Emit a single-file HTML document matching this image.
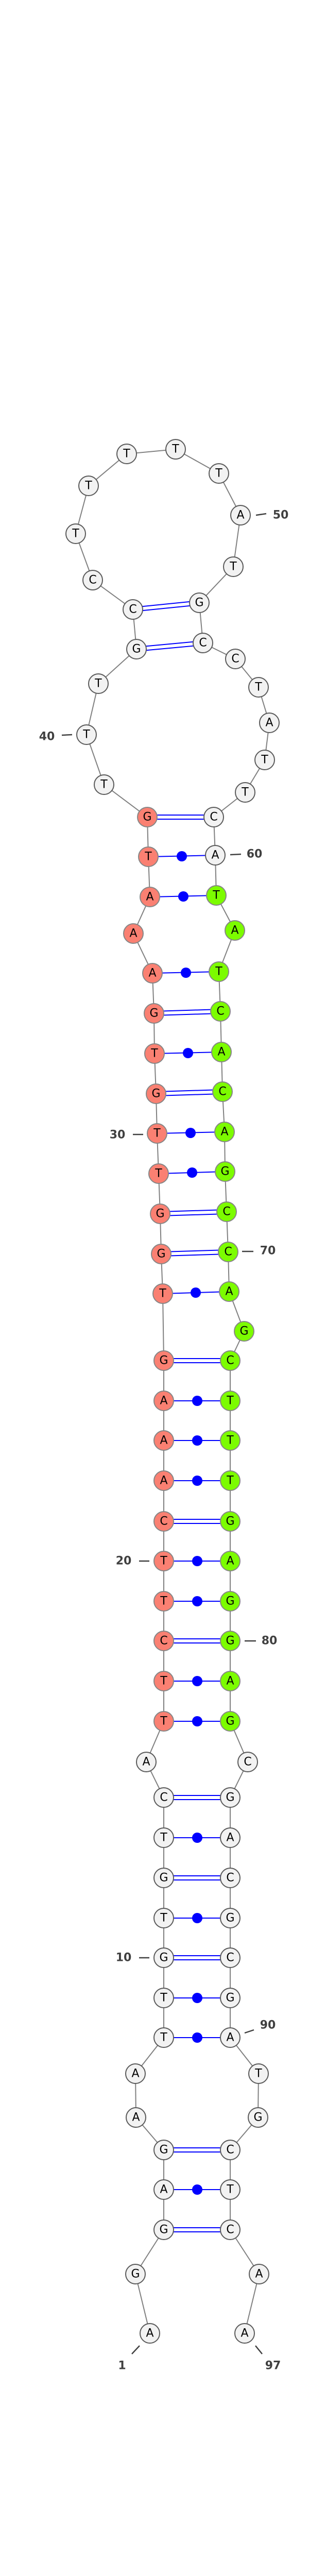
<!DOCTYPE html>
<html><head><meta charset="utf-8"><style>
html,body{margin:0;padding:0;background:#fff;width:600px;height:5330px;overflow:hidden;}
svg{display:block;}
.n text{font-family:"DejaVu Sans","Liberation Sans",sans-serif;font-size:22px;text-anchor:middle;dominant-baseline:central;fill:#000;}
.lab{font-family:"DejaVu Sans","Liberation Sans",sans-serif;font-weight:bold;font-size:22px;fill:#404040;text-anchor:middle;dominant-baseline:central;}
</style></head><body>
<svg width="600" height="5330" viewBox="0 0 600 5330" xmlns="http://www.w3.org/2000/svg">
<polyline fill="none" stroke="#808080" stroke-width="2" points="291,4529 263,4414 318,4328 318,4250 318,4173 264,4110 263,4025 318,3955 318,3878 318,3800 318,3723 318,3645 318,3567 318,3489 284,3420 318,3341 318,3263 318,3185 318,3108 318,3030 318,2953 318,2874 318,2796 318,2719 318,2641 316,2511 313,2434 311,2356 308,2278 305,2200 303,2123 300,2045 299,1967 296,1889 259,1812 291,1741 288,1663 286,1586 202,1523 168,1426 191,1327 265,1260 258,1183 180,1126 147,1036 172,943 246,881 341,872 425,919 467,1000 453,1100 387,1170 394,1248 457,1279 502,1334 523,1403 514,1475 476,1538 415,1586 418,1660 420,1738 456,1806 425,1886 428,1963 430,2042 432,2119 436,2197 437,2274 440,2352 443,2430 445,2507 474,2584 447,2641 447,2719 447,2796 447,2874 447,2953 447,3030 447,3108 447,3185 447,3263 447,3341 481,3420 447,3489 447,3567 447,3645 447,3723 447,3800 447,3878 447,3955 502,4025 501,4110 447,4173 447,4250 447,4328 503,4414 475,4529"/>
<g stroke="#0000ff" stroke-width="2">
<line x1="258" y1="1179" x2="387" y2="1166"/><line x1="258" y1="1187" x2="387" y2="1174"/>
<line x1="265" y1="1256" x2="394" y2="1244"/><line x1="265" y1="1264" x2="394" y2="1252"/>
<line x1="286" y1="1582" x2="415" y2="1582"/><line x1="286" y1="1590" x2="415" y2="1590"/>
<line x1="299" y1="1963" x2="428" y2="1959"/><line x1="299" y1="1971" x2="428" y2="1967"/>
<line x1="303" y1="2119" x2="432" y2="2115"/><line x1="303" y1="2127" x2="432" y2="2123"/>
<line x1="311" y1="2352" x2="440" y2="2348"/><line x1="311" y1="2360" x2="440" y2="2356"/>
<line x1="313" y1="2430" x2="443" y2="2426"/><line x1="313" y1="2438" x2="443" y2="2434"/>
<line x1="318" y1="2637" x2="447" y2="2637"/><line x1="318" y1="2645" x2="447" y2="2645"/>
<line x1="318" y1="2949" x2="447" y2="2949"/><line x1="318" y1="2957" x2="447" y2="2957"/>
<line x1="318" y1="3181" x2="447" y2="3181"/><line x1="318" y1="3189" x2="447" y2="3189"/>
<line x1="318" y1="3485" x2="447" y2="3485"/><line x1="318" y1="3493" x2="447" y2="3493"/>
<line x1="318" y1="3641" x2="447" y2="3641"/><line x1="318" y1="3649" x2="447" y2="3649"/>
<line x1="318" y1="3796" x2="447" y2="3796"/><line x1="318" y1="3804" x2="447" y2="3804"/>
<line x1="318" y1="4169" x2="447" y2="4169"/><line x1="318" y1="4177" x2="447" y2="4177"/>
<line x1="318" y1="4324" x2="447" y2="4324"/><line x1="318" y1="4332" x2="447" y2="4332"/>
<line x1="288" y1="1663" x2="418" y2="1660"/>
<line x1="291" y1="1741" x2="420" y2="1738"/>
<line x1="296" y1="1889" x2="425" y2="1886"/>
<line x1="300" y1="2045" x2="430" y2="2042"/>
<line x1="305" y1="2200" x2="436" y2="2197"/>
<line x1="308" y1="2278" x2="437" y2="2274"/>
<line x1="316" y1="2511" x2="445" y2="2507"/>
<line x1="318" y1="2719" x2="447" y2="2719"/>
<line x1="318" y1="2796" x2="447" y2="2796"/>
<line x1="318" y1="2874" x2="447" y2="2874"/>
<line x1="318" y1="3030" x2="447" y2="3030"/>
<line x1="318" y1="3108" x2="447" y2="3108"/>
<line x1="318" y1="3263" x2="447" y2="3263"/>
<line x1="318" y1="3341" x2="447" y2="3341"/>
<line x1="318" y1="3567" x2="447" y2="3567"/>
<line x1="318" y1="3723" x2="447" y2="3723"/>
<line x1="318" y1="3878" x2="447" y2="3878"/>
<line x1="318" y1="3955" x2="447" y2="3955"/>
<line x1="318" y1="4250" x2="447" y2="4250"/>
</g>
<g fill="#0000ff">
<circle cx="353" cy="1662" r="10"/><circle cx="356" cy="1740" r="10"/><circle cx="361" cy="1888" r="10"/><circle cx="365" cy="2044" r="10"/><circle cx="370" cy="2199" r="10"/><circle cx="373" cy="2276" r="10"/><circle cx="380" cy="2509" r="10"/>
<circle cx="383" cy="2719" r="10"/><circle cx="383" cy="2796" r="10"/><circle cx="383" cy="2874" r="10"/><circle cx="383" cy="3030" r="10"/><circle cx="383" cy="3108" r="10"/><circle cx="383" cy="3263" r="10"/><circle cx="383" cy="3341" r="10"/><circle cx="383" cy="3567" r="10"/><circle cx="383" cy="3723" r="10"/><circle cx="383" cy="3878" r="10"/><circle cx="383" cy="3955" r="10"/><circle cx="383" cy="4250" r="10"/>
</g>
<g stroke="#404040" stroke-width="2.5">
<line x1="497" y1="1000" x2="517" y2="997"/>
<line x1="120" y1="1427" x2="140" y2="1426"/>
<line x1="447" y1="1659" x2="468" y2="1658"/>
<line x1="258" y1="2202" x2="278" y2="2202"/>
<line x1="470" y1="2429" x2="492" y2="2429"/>
<line x1="270" y1="3030" x2="290" y2="3030"/>
<line x1="475" y1="3185" x2="497" y2="3185"/>
<line x1="270" y1="3800" x2="290" y2="3800"/>
<line x1="475" y1="3946" x2="493" y2="3940"/>
<line x1="256" y1="4569" x2="271" y2="4553"/>
<line x1="496" y1="4553" x2="509" y2="4569"/>
</g>
<g class="lab">
<text x="545" y="1000">50</text>
<text x="91" y="1430">40</text>
<text x="494" y="1658">60</text>
<text x="228" y="2203">30</text>
<text x="520" y="2428">70</text>
<text x="240" y="3030">20</text>
<text x="523" y="3185">80</text>
<text x="240" y="3800">10</text>
<text x="520" y="3931">90</text>
<text x="237" y="4592">1</text>
<text x="530" y="4592">97</text>
</g>
<g class="n" stroke-width="2">
<g fill="#f2f2f2" stroke="#5a5a5a">
<circle cx="291" cy="4529" r="19"/><circle cx="263" cy="4414" r="19"/><circle cx="318" cy="4328" r="19"/><circle cx="318" cy="4250" r="19"/><circle cx="318" cy="4173" r="19"/><circle cx="264" cy="4110" r="19"/><circle cx="263" cy="4025" r="19"/><circle cx="318" cy="3955" r="19"/><circle cx="318" cy="3878" r="19"/><circle cx="318" cy="3800" r="19"/><circle cx="318" cy="3723" r="19"/><circle cx="318" cy="3645" r="19"/><circle cx="318" cy="3567" r="19"/><circle cx="318" cy="3489" r="19"/><circle cx="284" cy="3420" r="19"/>
<circle cx="202" cy="1523" r="19"/><circle cx="168" cy="1426" r="19"/><circle cx="191" cy="1327" r="19"/><circle cx="265" cy="1260" r="19"/><circle cx="258" cy="1183" r="19"/><circle cx="180" cy="1126" r="19"/><circle cx="147" cy="1036" r="19"/><circle cx="172" cy="943" r="19"/><circle cx="246" cy="881" r="19"/><circle cx="341" cy="872" r="19"/><circle cx="425" cy="919" r="19"/><circle cx="467" cy="1000" r="19"/><circle cx="453" cy="1100" r="19"/><circle cx="387" cy="1170" r="19"/><circle cx="394" cy="1248" r="19"/><circle cx="457" cy="1279" r="19"/><circle cx="502" cy="1334" r="19"/><circle cx="523" cy="1403" r="19"/><circle cx="514" cy="1475" r="19"/><circle cx="476" cy="1538" r="19"/><circle cx="415" cy="1586" r="19"/><circle cx="418" cy="1660" r="19"/>
<circle cx="481" cy="3420" r="19"/><circle cx="447" cy="3489" r="19"/><circle cx="447" cy="3567" r="19"/><circle cx="447" cy="3645" r="19"/><circle cx="447" cy="3723" r="19"/><circle cx="447" cy="3800" r="19"/><circle cx="447" cy="3878" r="19"/><circle cx="447" cy="3955" r="19"/><circle cx="502" cy="4025" r="19"/><circle cx="501" cy="4110" r="19"/><circle cx="447" cy="4173" r="19"/><circle cx="447" cy="4250" r="19"/><circle cx="447" cy="4328" r="19"/><circle cx="503" cy="4414" r="19"/><circle cx="475" cy="4529" r="19"/>
</g>
<g fill="#fa8072" stroke="#868686">
<circle cx="318" cy="3341" r="19"/><circle cx="318" cy="3263" r="19"/><circle cx="318" cy="3185" r="19"/><circle cx="318" cy="3108" r="19"/><circle cx="318" cy="3030" r="19"/><circle cx="318" cy="2953" r="19"/><circle cx="318" cy="2874" r="19"/><circle cx="318" cy="2796" r="19"/><circle cx="318" cy="2719" r="19"/><circle cx="318" cy="2641" r="19"/><circle cx="316" cy="2511" r="19"/><circle cx="313" cy="2434" r="19"/><circle cx="311" cy="2356" r="19"/><circle cx="308" cy="2278" r="19"/><circle cx="305" cy="2200" r="19"/><circle cx="303" cy="2123" r="19"/><circle cx="300" cy="2045" r="19"/><circle cx="299" cy="1967" r="19"/><circle cx="296" cy="1889" r="19"/><circle cx="259" cy="1812" r="19"/><circle cx="291" cy="1741" r="19"/><circle cx="288" cy="1663" r="19"/><circle cx="286" cy="1586" r="19"/>
</g>
<g fill="#7cfc00" stroke="#868686">
<circle cx="420" cy="1738" r="19"/><circle cx="456" cy="1806" r="19"/><circle cx="425" cy="1886" r="19"/><circle cx="428" cy="1963" r="19"/><circle cx="430" cy="2042" r="19"/><circle cx="432" cy="2119" r="19"/><circle cx="436" cy="2197" r="19"/><circle cx="437" cy="2274" r="19"/><circle cx="440" cy="2352" r="19"/><circle cx="443" cy="2430" r="19"/><circle cx="445" cy="2507" r="19"/><circle cx="474" cy="2584" r="19"/><circle cx="447" cy="2641" r="19"/><circle cx="447" cy="2719" r="19"/><circle cx="447" cy="2796" r="19"/><circle cx="447" cy="2874" r="19"/><circle cx="447" cy="2953" r="19"/><circle cx="447" cy="3030" r="19"/><circle cx="447" cy="3108" r="19"/><circle cx="447" cy="3185" r="19"/><circle cx="447" cy="3263" r="19"/><circle cx="447" cy="3341" r="19"/>
</g>
<g stroke="none">
<text x="291" y="4529">A</text><text x="263" y="4414">G</text><text x="318" y="4328">G</text><text x="318" y="4250">A</text><text x="318" y="4173">G</text><text x="264" y="4110">A</text><text x="263" y="4025">A</text><text x="318" y="3955">T</text><text x="318" y="3878">T</text><text x="318" y="3800">G</text><text x="318" y="3723">T</text><text x="318" y="3645">G</text><text x="318" y="3567">T</text><text x="318" y="3489">C</text><text x="284" y="3420">A</text><text x="318" y="3341">T</text><text x="318" y="3263">T</text><text x="318" y="3185">C</text><text x="318" y="3108">T</text><text x="318" y="3030">T</text><text x="318" y="2953">C</text><text x="318" y="2874">A</text><text x="318" y="2796">A</text><text x="318" y="2719">A</text><text x="318" y="2641">G</text><text x="316" y="2511">T</text><text x="313" y="2434">G</text><text x="311" y="2356">G</text><text x="308" y="2278">T</text><text x="305" y="2200">T</text><text x="303" y="2123">G</text><text x="300" y="2045">T</text><text x="299" y="1967">G</text><text x="296" y="1889">A</text><text x="259" y="1812">A</text><text x="291" y="1741">A</text><text x="288" y="1663">T</text><text x="286" y="1586">G</text><text x="202" y="1523">T</text><text x="168" y="1426">T</text><text x="191" y="1327">T</text><text x="265" y="1260">G</text><text x="258" y="1183">C</text><text x="180" y="1126">C</text><text x="147" y="1036">T</text><text x="172" y="943">T</text><text x="246" y="881">T</text><text x="341" y="872">T</text><text x="425" y="919">T</text><text x="467" y="1000">A</text><text x="453" y="1100">T</text><text x="387" y="1170">G</text><text x="394" y="1248">C</text><text x="457" y="1279">C</text><text x="502" y="1334">T</text><text x="523" y="1403">A</text><text x="514" y="1475">T</text><text x="476" y="1538">T</text><text x="415" y="1586">C</text><text x="418" y="1660">A</text><text x="420" y="1738">T</text><text x="456" y="1806">A</text><text x="425" y="1886">T</text><text x="428" y="1963">C</text><text x="430" y="2042">A</text><text x="432" y="2119">C</text><text x="436" y="2197">A</text><text x="437" y="2274">G</text><text x="440" y="2352">C</text><text x="443" y="2430">C</text><text x="445" y="2507">A</text><text x="474" y="2584">G</text><text x="447" y="2641">C</text><text x="447" y="2719">T</text><text x="447" y="2796">T</text><text x="447" y="2874">T</text><text x="447" y="2953">G</text><text x="447" y="3030">A</text><text x="447" y="3108">G</text><text x="447" y="3185">G</text><text x="447" y="3263">A</text><text x="447" y="3341">G</text><text x="481" y="3420">C</text><text x="447" y="3489">G</text><text x="447" y="3567">A</text><text x="447" y="3645">C</text><text x="447" y="3723">G</text><text x="447" y="3800">C</text><text x="447" y="3878">G</text><text x="447" y="3955">A</text><text x="502" y="4025">T</text><text x="501" y="4110">G</text><text x="447" y="4173">C</text><text x="447" y="4250">T</text><text x="447" y="4328">C</text><text x="503" y="4414">A</text><text x="475" y="4529">A</text>
</g>
</g>
<text x="300" y="5320" font-family="DejaVu Sans, Liberation Sans, sans-serif" font-weight="bold" font-size="11" text-anchor="middle" fill="#000">dme-mir-2b-2_annot [-43.2]</text>
</svg>
</body></html>
